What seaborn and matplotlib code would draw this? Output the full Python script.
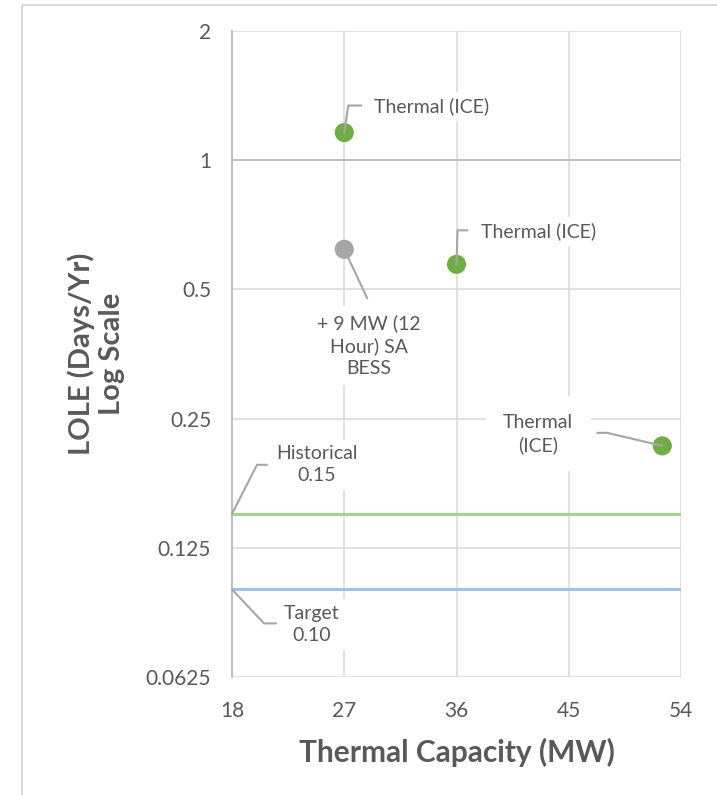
import matplotlib
matplotlib.use('Agg')
import matplotlib.pyplot as plt
import seaborn as sns
import pandas as pd
from matplotlib.lines import Line2D
from matplotlib.ticker import NullLocator
from matplotlib.transforms import IdentityTransform

# ---- data ----
capacity_mw = [27, 36, 52.5, 27]
lole_days = [1.16, 0.572, 0.216, 0.62]
series = ['Thermal (ICE)', 'Thermal (ICE)', 'Thermal (ICE)', 'SA BESS']
point_labels = ['Thermal (ICE)', 'Thermal (ICE)', 'Thermal\n(ICE)', '+ 9 MW (12\nHour) SA\nBESS']
historical_lole = 0.15
target_lole = 0.10
x_ticks = [18, 27, 36, 45, 54]
y_ticks = [0.0625, 0.125, 0.25, 0.5, 1, 2]
y_tick_labels = ['0.0625', '0.125', '0.25', '0.5', '1', '2']

df = pd.DataFrame({'cap': capacity_mw, 'lole': lole_days, 'series': series})

sns.set_theme(style='white')
plt.rcParams['font.family'] = ['Lato', 'DejaVu Sans']

TXT = '#595959'
fig = plt.figure(figsize=(7.17, 7.95), dpi=100)
ax = fig.add_axes([232/717, 1-677/795, (681-232)/717, (677-31)/795])

sns.scatterplot(data=df, x='cap', y='lole', hue='series',
                palette={'Thermal (ICE)': '#70ad47', 'SA BESS': '#a5a5a5'},
                s=190, edgecolor='none', legend=False, ax=ax, zorder=5)

ax.set_yscale('log', base=2)
ax.set_xlim(x_ticks[0], x_ticks[-1])
ax.set_ylim(y_ticks[0], y_ticks[-1])
ax.set_xticks(x_ticks)
ax.set_xticklabels([str(t) for t in x_ticks])
ax.set_yticks(y_ticks)
ax.set_yticklabels(y_tick_labels)
ax.yaxis.set_minor_locator(NullLocator())
ax.xaxis.set_minor_locator(NullLocator())
ax.grid(True, color='#d9d9d9', lw=1.1, zorder=0)
ax.set_axisbelow(True)
for side in ['top', 'right', 'bottom']:
    ax.spines[side].set_visible(False)
ax.spines['left'].set_color('#bfbfbf')
ax.spines['left'].set_linewidth(1.5)
ax.axhline(1, color='#bfbfbf', lw=1.5, zorder=1.5)
ax.tick_params(axis='both', length=0, labelsize=15, labelcolor=TXT)
ax.tick_params(axis='x', pad=17)
ax.tick_params(axis='y', pad=15)

ax.axhline(historical_lole, color='#a9d18e', lw=2.2, zorder=3)
ax.axhline(target_lole, color='#9dc3e6', lw=2.2, zorder=3)

ax.set_xlabel('Thermal Capacity (MW)', fontsize=21.5, fontweight='bold', color=TXT, va='center')
ax.xaxis.set_label_coords(0.5, (677-752)/646)
ax.set_ylabel('LOLE (Days/Yr)\nLog Scale', fontsize=21, fontweight='bold', color=TXT,
              va='center', ha='center', linespacing=1.2)
ax.yaxis.set_label_coords((96-232)/449, 0.5)


def leader(x, y, offsets):
    px, py = ax.transData.transform((x, y))
    xs = [px] + [px + dx for dx, dy in offsets]
    ys = [py] + [py + dy for dx, dy in offsets]
    ln = Line2D(xs, ys, transform=IdentityTransform(), color='#a6a6a6', lw=1.5,
                zorder=7, clip_on=False)
    ax.add_line(ln)


def label(x, y, text, off, ha='center', pad=0.3, ls=1.35):
    ax.annotate(text, xy=(x, y), xytext=off, textcoords='offset pixels',
                ha=ha, va='center', fontsize=14, color=TXT, linespacing=ls,
                zorder=6, annotation_clip=False,
                bbox=dict(boxstyle=f'square,pad={pad}', fc='white', ec='none'))


# point labels (offsets in pixels)
leader(capacity_mw[0], lole_days[0], [(4, 27), (17, 27)])
label(capacity_mw[0], lole_days[0], point_labels[0], (30, 26), ha='left')

leader(capacity_mw[1], lole_days[1], [(1, 34), (11, 34)])
label(capacity_mw[1], lole_days[1], point_labels[1], (24, 33), ha='left')

leader(capacity_mw[2], lole_days[2], [(-55, 13), (-65, 13)])
label(capacity_mw[2], lole_days[2], point_labels[2], (-124, 12), pad=0.9)

leader(capacity_mw[3], lole_days[3], [(23, -49)])
label(capacity_mw[3], lole_days[3], point_labels[3], (25, -96), pad=0.4)

# reference line labels
leader(x_ticks[0], historical_lole, [(25, 49), (35, 49)])
label(x_ticks[0], historical_lole, f'Historical\n{historical_lole:.2f}', (85, 49))

leader(x_ticks[0], target_lole, [(32, -34), (44, -34)])
label(x_ticks[0], target_lole, f'Target\n{target_lole:.2f}', (80, -35))

# chart frame
fig.add_artist(Line2D([22/717, 1], [1-5/795, 1-5/795], transform=fig.transFigure,
                      color='#d9d9d9', lw=1.5))
fig.add_artist(Line2D([22/717, 22/717], [0, 1-5/795], transform=fig.transFigure,
                      color='#d9d9d9', lw=1.5))

fig.savefig('out.png', dpi=100, facecolor='white')
